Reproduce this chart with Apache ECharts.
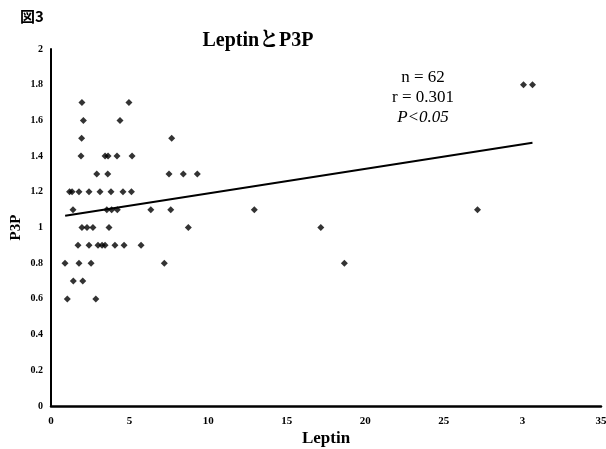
<!DOCTYPE html>
<html>
<head>
<meta charset="utf-8">
<script src="https://cdn.jsdelivr.net/npm/echarts@6/dist/echarts.min.js"></script>
<style>
  html, body { margin: 0; padding: 0; background: #fff; }
  #chart { width: 606px; height: 449px; }
</style>
</head>
<body>
<div id="chart"></div>
<script>
// Leptin (x) and P3P (y) per subject
const leptin = [
  1.97, 4.96,
  30.07, 30.64,
  2.06, 4.39,
  1.95, 7.68,
  1.91, 3.44, 3.63, 4.20, 5.16,
  2.91, 3.61, 7.51, 8.42, 9.31,
  1.18, 1.34, 1.78, 2.42, 3.12, 3.82, 4.58, 5.12,
  1.40, 3.55, 3.86, 4.22, 6.35, 7.62, 12.94, 27.14,
  1.97, 2.29, 2.67, 3.69, 8.74, 17.17,
  1.72, 2.42, 2.99, 3.25, 3.44, 4.07, 4.65, 5.73,
  0.89, 1.78, 2.55, 7.21, 18.67,
  1.42, 2.02,
  1.04, 2.85
];
const p3p = [
  1.7, 1.7,
  1.8, 1.8,
  1.6, 1.6,
  1.5, 1.5,
  1.4, 1.4, 1.4, 1.4, 1.4,
  1.3, 1.3, 1.3, 1.3, 1.3,
  1.2, 1.2, 1.2, 1.2, 1.2, 1.2, 1.2, 1.2,
  1.1, 1.1, 1.1, 1.1, 1.1, 1.1, 1.1, 1.1,
  1.0, 1.0, 1.0, 1.0, 1.0, 1.0,
  0.9, 0.9, 0.9, 0.9, 0.9, 0.9, 0.9, 0.9,
  0.8, 0.8, 0.8, 0.8, 0.8,
  0.7, 0.7,
  0.6, 0.6
];
// regression line end points
const trendX = [0.9, 30.64];
const trendY = [1.066, 1.475];
// x-axis tick labels as printed
const xTickLabels = ['0', '5', '10', '15', '20', '25', '3', '35'];

const serif = "'Liberation Serif', 'Times New Roman', 'Noto Serif CJK JP', 'Noto Sans CJK JP', serif";

const chart = echarts.init(document.getElementById('chart'), null, { renderer: 'canvas' });
chart.setOption({
  backgroundColor: '#ffffff',
  animation: false,
  grid: { left: 51, right: 5, top: 49, bottom: 43, containLabel: false, outerBoundsMode: 'none' },
  graphic: [
    { type: 'text', left: 20, top: 9,
      style: { text: '図3', font: "bold 15px 'Noto Sans CJK JP', sans-serif", fill: '#000' } },
    { type: 'text', x: 258, y: 41,
      style: { text: 'LeptinとP3P', font: "bold 20px " + serif, fill: '#000', align: 'center', verticalAlign: 'middle' } },
    { type: 'text', x: 423, y: 78,
      style: { text: 'n = 62', font: "17px " + serif, fill: '#000', align: 'center', verticalAlign: 'middle' } },
    { type: 'text', x: 423, y: 98,
      style: { text: 'r = 0.301', font: "17px " + serif, fill: '#000', align: 'center', verticalAlign: 'middle' } },
    { type: 'text', x: 423, y: 118,
      style: { text: 'P<0.05', font: "italic 17px " + serif, fill: '#000', align: 'center', verticalAlign: 'middle' } }
  ],
  xAxis: {
    type: 'value', min: 0, max: 35, interval: 5,
    name: 'Leptin', nameLocation: 'middle', nameGap: 24, nameMoveOverlap: false,
    nameTextStyle: { fontFamily: serif, fontWeight: 'bold', fontSize: 17, color: '#000' },
    axisLine: { onZero: false, lineStyle: { color: '#000', width: 2.5 } },
    axisTick: { show: false },
    splitLine: { show: false },
    axisLabel: {
      margin: 10, fontFamily: serif, fontWeight: 'bold', fontSize: 11, color: '#000',
      formatter: (v) => xTickLabels[Math.round(v / 5)]
    }
  },
  yAxis: {
    type: 'value', min: 0, max: 2, interval: 0.2,
    name: 'P3P', nameLocation: 'middle', nameGap: 27, nameRotate: 90, nameMoveOverlap: false,
    nameTextStyle: { fontFamily: serif, fontWeight: 'bold', fontSize: 15, color: '#000' },
    axisLine: { show: true, onZero: false, lineStyle: { color: '#000', width: 2 } },
    axisTick: { show: false },
    splitLine: { show: false },
    axisLabel: {
      margin: 8, fontFamily: serif, fontWeight: 'bold', fontSize: 10, color: '#000',
      formatter: (v) => String(Math.round(v * 10) / 10)
    }
  },
  series: [
    {
      type: 'scatter',
      symbol: 'diamond',
      symbolSize: 7,
      itemStyle: { color: '#000' },
      data: leptin.map((x, i) => [x, p3p[i]])
    },
    {
      type: 'line',
      symbol: 'none',
      lineStyle: { color: '#000', width: 2 },
      data: trendX.map((x, i) => [x, trendY[i]])
    }
  ]
});
</script>
</body>
</html>
